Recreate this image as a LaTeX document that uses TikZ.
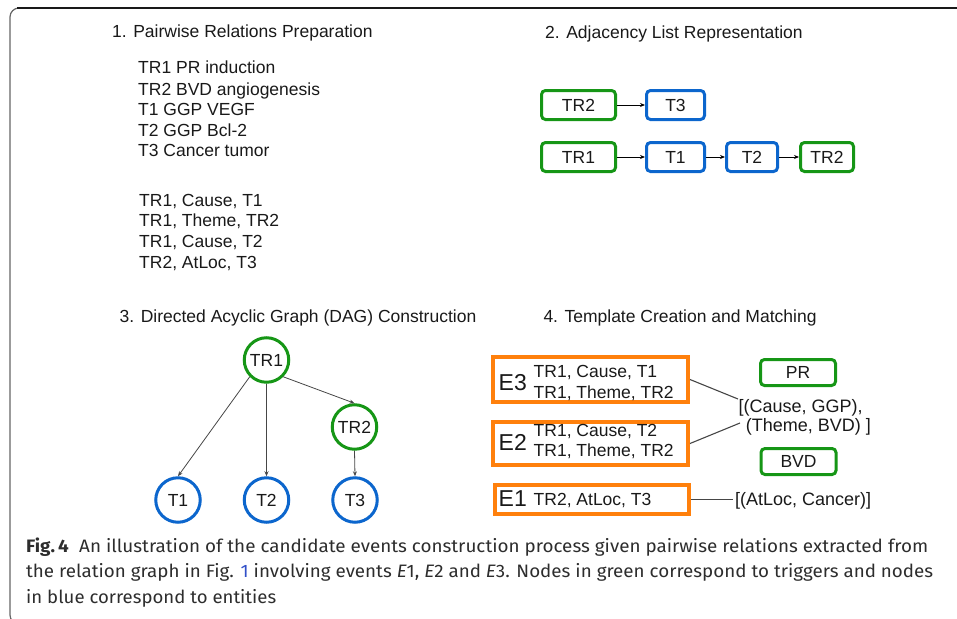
\documentclass[tikz,border=0pt]{standalone}
\usepackage{fontspec}
\setmainfont{Liberation Sans}
\newfontfamily\capfont{Fira Sans}
\usepackage{graphicx}
\usetikzlibrary{arrows.meta}
\definecolor{tgreen}{RGB}{22,150,22}
\definecolor{tblue}{RGB}{12,102,205}
\definecolor{torange}{RGB}{255,128,12}
\definecolor{txt}{RGB}{25,25,25}
\definecolor{capc}{RGB}{45,45,45}
\definecolor{linkc}{RGB}{50,80,200}
\definecolor{edgec}{RGB}{70,70,70}
\newcommand\myfs[1]{\fontsize{#1pt}{#1pt}\selectfont}
\begin{document}
\begin{tikzpicture}[x=1pt,y=-1pt,
  every node/.style={inner sep=0pt, text=txt},
  lbl/.style={font=\myfs{17.5}},
  ttl/.style={anchor=base west, font=\myfs{17.5}},
  gbox/.style={draw=tgreen, line width=3pt, rounded corners=4pt, minimum height=29pt, font=\myfs{17.5}},
  bbox/.style={draw=tblue, line width=3pt, rounded corners=4pt, minimum height=29pt, font=\myfs{17.5}},
  gcirc/.style={circle, draw=tgreen, line width=3pt, minimum size=44.5pt, font=\myfs{17.5}},
  bcirc/.style={circle, draw=tblue, line width=3pt, minimum size=44.5pt, font=\myfs{17.5}},
  ebox/.style={draw=torange, line width=4pt},
  elab/.style={anchor=base west, font=\myfs{23}},
  etxt/.style={anchor=base west, font=\myfs{17.5}},
  ptxt/.style={anchor=base west, font=\myfs{18}},
  arr/.style={draw=black, line width=0.8pt, -{Stealth[length=5pt,width=4pt]}},
  dagarr/.style={draw=edgec, line width=0.8pt, -{Stealth[length=5pt,width=4pt]}},
  eline/.style={draw=edgec, line width=1.1pt},
  capline/.style={anchor=base west, text=capc, font=\capfont\myfs{18}}
]
\path[use as bounding box] (0,0) rectangle (957,618);
\clip (0,0) rectangle (957,618);

% frame
\draw[gray!80!black, line width=1.2pt, rounded corners=9pt] (40,8) -- (10,8) -- (10,624) -- (40,624);
\draw[black!90, line width=1.8pt] (17,8) -- (957,8);

% section 1
\node[ttl] (h1) at (112,37.5) {1. Pairwise Relations Preparation};
\node[etxt] (a1) at (138,74) {TR1 PR induction};
\node[etxt] (a2) at (138,95) {TR2 BVD angiogenesis};
\node[etxt] (a3) at (138,115.5) {T1 GGP VEGF};
\node[etxt] (a4) at (138,136) {T2 GGP Bcl-2};
\node[etxt] (a5) at (138,156.7) {T3 Cancer tumor};
\node[etxt] (b1) at (139,206) {TR1, Cause, T1};
\node[etxt] (b2) at (139,226.7) {TR1, Theme, TR2};
\node[etxt] (b3) at (139,247.3) {TR1, Cause, T2};
\node[etxt] (b4) at (139,268.3) {TR2, AtLoc, T3};

% section 2
\node[ttl] (h2) at (545,38) {2. Adjacency List Representation};
\node[gbox, minimum width=74pt] (L1a) at (578.5,105) {TR2};
\node[bbox, minimum width=58pt] (L1b) at (675.5,105) {T3};
\node[gbox, minimum width=74pt] (L2a) at (578.5,157) {TR1};
\node[bbox, minimum width=58pt] (L2b) at (675.5,157) {T1};
\node[bbox, minimum width=51pt] (L2c) at (752,157) {T2};
\node[gbox, minimum width=53pt] (L2d) at (827,157) {TR2};
\draw[arr] (L1a.east) -- (L1b.west);
\draw[arr] (L2a.east) -- (L2b.west);
\draw[arr] (L2b.east) -- (L2c.west);
\draw[arr] (L2c.east) -- (L2d.west);

% section 3
\node[ttl] (h3) at (119.5,322.7) {3. Directed Acyclic Graph (DAG) Construction};
\node[gcirc] (D1) at (266.5,360) {TR1};
\node[gcirc] (D2) at (354.5,427) {TR2};
\node[bcirc] (D3) at (178,500) {T1};
\node[bcirc] (D4) at (266.5,500) {T2};
\node[bcirc] (D5) at (355,500) {T3};
\draw[dagarr] (D1.south west) -- (D3.north);
\draw[dagarr] (D1.south) -- (D4.north);
\draw[dagarr] (D1.south east) -- (D2.north);
\draw[dagarr] (D2.south) -- (D5.north);

% section 4
\node[ttl] (h4) at (543.3,322.7) {4. Template Creation and Matching};
\node[ebox, minimum width=195pt, minimum height=45pt] (E3) at (590.5,379.5) {};
\node[elab] (E3l) at (498.5,390) {E3};
\node[etxt] (E3a) at (533.5,377.3) {TR1, Cause, T1};
\node[etxt] (E3b) at (533.5,398.3) {TR1, Theme, TR2};
\node[ebox, minimum width=195pt, minimum height=43pt] (E2) at (590.5,443.5) {};
\node[elab] (E2l) at (498.5,450.5) {E2};
\node[etxt] (E2a) at (533.5,436.7) {TR1, Cause, T2};
\node[etxt] (E2b) at (533.5,456.7) {TR1, Theme, TR2};
\node[ebox, minimum width=194pt, minimum height=29pt] (E1) at (592,499.5) {};
\node[elab] (E1l) at (498.5,506.5) {E1};
\node[etxt] (E1a) at (533.5,505.7) {TR2, AtLoc, T3};

\node[gbox, minimum width=75pt, minimum height=26pt] (PR) at (798,372.5) {PR};
\node[gbox, minimum width=75pt, minimum height=26pt] (BVD) at (798.5,461.5) {BVD};
\node[ptxt] (P1) at (738.3,412.7) {[(Cause, GGP),};
\node[ptxt] (P2) at (745.7,431.7) {(Theme, BVD) ]};
\node[ptxt] (P3) at (735,505) {[(AtLoc, Cancer)]};
\coordinate (m3) at (738,399);
\coordinate (m2) at (740,423);
\draw[eline] (E3.east) -- (m3);
\draw[eline] (E2.east) -- (m2);
\draw[eline, shorten >=2pt] (E1.east) -- (E1.east -| P3.west);

% caption
\node[capline] (c1) at (26,552) {\resizebox{902pt}{\height}{\textbf{Fig.\,4}\hspace{0.55em}An illustration of the candidate events construction process given pairwise relations extracted from}};
\node[capline] (c2) at (26,577.7) {\resizebox{907pt}{\height}{the relation graph in Fig. \textcolor{linkc}{1} involving events \textit{E}1, \textit{E}2 and \textit{E}3. Nodes in green correspond to triggers and nodes}};
\node[capline] (c3) at (26,603.5) {\resizebox{250pt}{\height}{in blue correspond to entities}};
\end{tikzpicture}
\end{document}
